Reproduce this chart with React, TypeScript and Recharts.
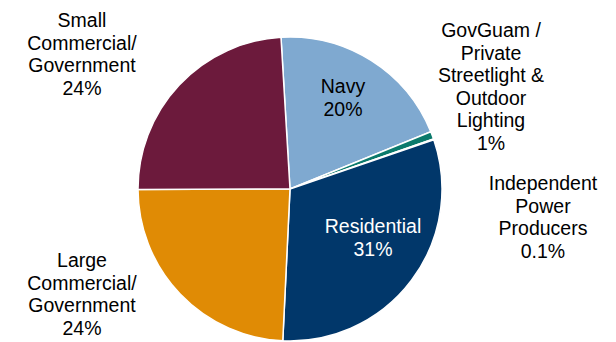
import React from 'react';
import { PieChart, Pie, Cell } from 'recharts';

const categories = [
  'Navy',
  'GovGuam /\nPrivate\nStreetlight &\nOutdoor\nLighting',
  'Independent\nPower\nProducers',
  'Residential',
  'Large\nCommercial/\nGovernment',
  'Small\nCommercial/\nGovernment',
];
const shares = [19.8, 0.8, 0.1, 31.0, 24.2, 24.1];
const percentLabels = ['20%', '1%', '0.1%', '31%', '24%', '24%'];

const colors = ['#7FA9D0', '#0B7A6C', '#FFFFFF', '#01376A', '#E08B05', '#6C1A3C'];
const textColors = ['#000', '#000', '#000', '#fff', '#000', '#000'];
// label anchor offsets relative to pie center (x center, first baseline)
const labelOffsets: [number, number][] = [
  [53, -96],
  [201, -152],
  [253, 1],
  [83, 44],
  [-208, 78],
  [-208, -162],
];

const data = categories.map((name, i) => ({ name, value: shares[i], pct: percentLabels[i] }));

const FONT = '"Liberation Sans", Arial, sans-serif';
const LINE = 22.6;

const renderLabel = (props: any) => {
  const { cx, cy, index } = props;
  const [dx, dy] = labelOffsets[index];
  const lines = [...categories[index].split('\n'), percentLabels[index]];
  const x = cx + dx;
  const y = cy + dy;
  return (
    <text
      key={`lbl-${index}`}
      x={x}
      y={y}
      textAnchor="middle"
      fill={textColors[index]}
      fontFamily={FONT}
      fontSize={19.5}
    >
      {lines.map((l, i) => (
        <tspan key={i} x={x} y={y + i * LINE}>
          {l}
        </tspan>
      ))}
    </text>
  );
};

export default function App() {
  return (
    <div style={{ position: 'absolute', left: 0, top: 0, width: 616, height: 342, background: '#fff' }}>
      <PieChart width={616} height={342} margin={{ top: 0, right: 0, bottom: 0, left: 0 }}>
        <Pie
          data={data}
          dataKey="value"
          nameKey="name"
          cx={290}
          cy={189}
          outerRadius={152}
          startAngle={93.4}
          endAngle={-266.6}
          stroke="#ffffff"
          strokeWidth={1.5}
          label={renderLabel}
          labelLine={false}
          isAnimationActive={false}
        >
          {data.map((d, i) => (
            <Cell key={d.name} fill={colors[i]} />
          ))}
        </Pie>
      </PieChart>
    </div>
  );
}
